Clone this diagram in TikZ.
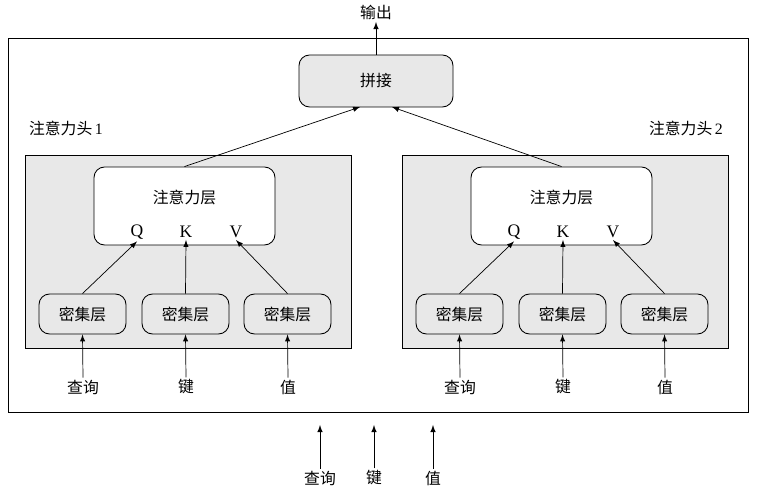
\documentclass[tikz,border=0pt]{standalone}
\usepackage{fontspec}
\setmainfont{Liberation Serif}
\newfontfamily\cjk{Noto Sans CJK SC}
\usetikzlibrary{positioning}
\tikzset{
  box/.style={draw, rounded corners=6pt, fill=gray!18, inner sep=0pt},
  lbl/.style={font=\cjk\fontsize{9}{11}\selectfont, inner sep=1pt},
  arr/.style={-latex, thin}
}
\begin{document}
\begin{tikzpicture}[x=0.02cm, y=-0.02cm, line width=0.5pt]
  \useasboundingbox (0,0) rectangle (758,492);
  % outer frame
  \draw (8,38) rectangle (748,412);
  % concat
  \node[box, minimum width=154*0.02cm, minimum height=52*0.02cm] (cat) at (376,81) {};
  \node[lbl] at (cat) {拼接};
  \coordinate (outtop) at (376,22);
  \node[lbl, anchor=south] (out) at (376,22) {输出};
  \draw[arr] (cat.north) -- (outtop);
  % heads
  \foreach \h/\dx in {1/0, 2/377} {
    \begin{scope}[xshift=\dx*0.02cm]
      \node[draw, fill=gray!18, minimum width=326*0.02cm, minimum height=193*0.02cm, inner sep=0pt] (head\h) at (188,251.5) {};
      \node[box, fill=white, minimum width=181*0.02cm, minimum height=78*0.02cm] (att\h) at (184.5,206) {};
      \node[lbl] at (184.5,197) {注意力层};
      \foreach \k/\K/\x/\t/\lab in {q/Q/137/83/查询, k/K/186/186/键, v/V/236/288/值} {
        \node[font=\fontsize{10}{12}\selectfont, inner sep=1pt] (\k\h) at (\x,232) {\K};
        \node[box, minimum width=87*0.02cm, minimum height=40*0.02cm] (d\k\h) at (\t-0.5,314) {};
        \node[lbl] at (d\k\h) {密集层};
        \node[lbl] (in\k\h) at (\t,387) {\lab};
        \draw[arr] (in\k\h.north) -- (d\k\h.south);
        \draw[arr] (d\k\h.north) -- (\k\h.south);
      }
    \end{scope}
  }
  \node[lbl] at (66,128) {注意力头\,\rmfamily 1};
  \node[lbl] at (686,128) {注意力头\,\rmfamily 2};
  \draw[arr] (att1.north) -- (360,107);
  \draw[arr] (att2.north) -- (392,107);
  % bottom inputs
  \foreach \n/\x/\lab in {q/320/查询, k/374/键, v/433/值} {
    \node[lbl] (b\n) at (\x,478) {\lab};
    \coordinate (bt\n) at (\x,425);
    \draw[arr] (b\n.north) -- (bt\n);
  }
\end{tikzpicture}
\end{document}
